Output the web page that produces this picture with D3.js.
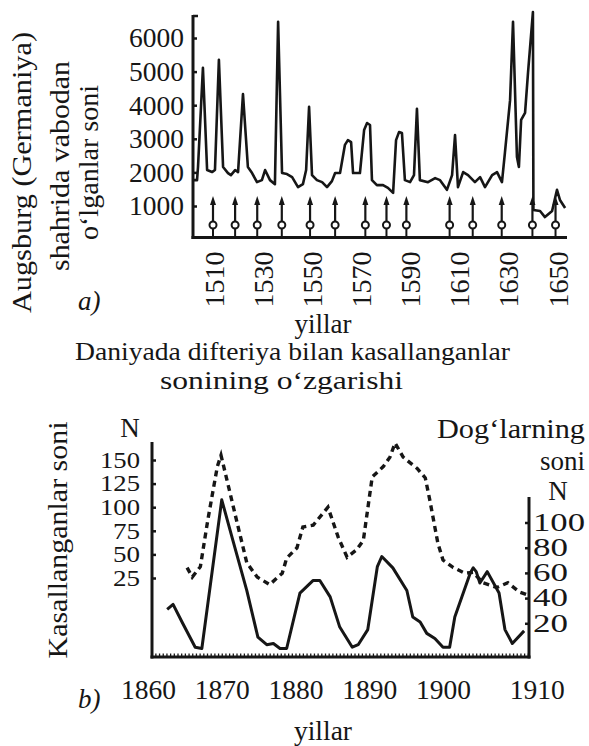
<!DOCTYPE html>
<html>
<head>
<meta charset="utf-8">
<script src="https://cdn.jsdelivr.net/npm/d3@7"></script>
<style>
  body { margin: 0; background: #fff; }
  svg { display: block; }
</style>
</head>
<body>
<svg id="chart" width="589" height="746"></svg>
<script>
// ---------- a) Augsburg: deaths per year ----------
const augYears = [1501.9, 1503.5, 1503.9, 1505.9, 1507.6, 1509.6, 1510.8, 1512.4, 1514.1, 1516.1,
  1517.3, 1519.0, 1520.2, 1522.2, 1524.2, 1525.9, 1527.9, 1529.9, 1531.2, 1533.2,
  1535.2, 1536.5, 1538.1, 1540.1, 1542.2, 1544.6, 1546.6, 1547.9, 1549.1, 1550.3,
  1552.3, 1554.4, 1556.4, 1558.4, 1559.7, 1561.7, 1563.7, 1564.9, 1566.2, 1567.0,
  1569.8, 1571.5, 1572.7, 1573.9, 1574.7, 1576.7, 1579.2, 1581.2, 1583.3, 1584.5,
  1585.7, 1586.9, 1588.1, 1590.2, 1591.8, 1593.0, 1594.2, 1597.5, 1600.4, 1602.4,
  1605.2, 1607.3, 1608.5, 1609.7, 1611.8, 1613.8, 1616.6, 1618.7, 1620.7, 1623.6,
  1625.6, 1627.6, 1628.8, 1630.9, 1632.1, 1633.7, 1634.5, 1635.4, 1637.0, 1638.2,
  1640.2, 1640.4, 1643.1, 1645.1, 1648.0, 1650.0, 1651.2, 1653.3];
const augDeaths = [1770, 1770, 2160, 5110, 2070, 2010, 2070, 5350, 2160, 1980,
  1920, 2070, 2010, 4330, 2160, 1980, 1710, 1770, 2070, 1770,
  1650, 6480, 1980, 1950, 1860, 1560, 1650, 2070, 3950, 1920,
  1770, 1710, 1560, 1740, 1980, 1980, 2820, 2960, 2900, 1980,
  1980, 3260, 3470, 3410, 1770, 1620, 1620, 1540, 1390, 2960,
  3200, 3170, 1770, 1710, 1920, 3890, 1770, 1710, 1830, 1770,
  1480, 1920, 3110, 1560, 2010, 1920, 1710, 1860, 1560, 1920,
  2010, 1710, 2580, 4150, 6480, 2460, 2160, 3560, 3770, 4960,
  6770, 880, 850, 670, 850, 1480, 1180, 940];
// years marked with arrows along the time axis
const markerYears = [1510, 1519, 1528, 1538, 1549.5, 1559.7, 1572, 1580.6, 1588.7,
  1606.3, 1615.7, 1627.5, 1640, 1649.4];
const augYTicks = [1000, 2000, 3000, 4000, 5000, 6000];
const augXTicks = [1510, 1530, 1550, 1570, 1590, 1610, 1630, 1650];

// ---------- b) Denmark: diphtheria cases and sunspots ----------
const caseYears = [1865.3, 1866.0, 1867.1, 1868.1, 1869.4, 1869.9, 1870.7, 1872.1, 1873.4, 1874.8,
  1876.5, 1878.2, 1878.8, 1880.2, 1881.0, 1882.4, 1884.4, 1885.8, 1887.0, 1888.3,
  1889.2, 1890.4, 1891.9, 1892.8, 1893.5, 1894.6, 1896.5, 1897.6, 1898.2, 1899.3,
  1900.0, 1901.4, 1903.0, 1904.1, 1905.4, 1907.3, 1908.8, 1910.4, 1911.5];
const cases = [36, 26, 37, 86, 143, 155, 129, 83, 41, 26,
  18, 30, 46, 57, 79, 81, 100, 68, 47, 55,
  65, 132, 143, 153, 168, 153, 141, 131, 108, 62,
  44, 36, 30, 31, 20, 15, 20, 10, 7];
const spotYears = [1862.6, 1863.4, 1864.7, 1866.4, 1867.3, 1870.0, 1871.5, 1873.4, 1874.9, 1876.1,
  1877.0, 1877.9, 1878.8, 1880.6, 1882.4, 1883.3, 1884.7, 1886.0, 1887.7, 1888.5,
  1889.8, 1891.1, 1891.7, 1893.2, 1895.1, 1895.9, 1896.9, 1897.8, 1898.9, 1900.0,
  1900.9, 1901.6, 1903.7, 1904.1, 1904.5, 1905.0, 1906.0, 1907.6, 1908.4, 1909.4, 1911.0];
const spots = [31, 35, 20, 1, 0, 118, 86, 46, 9, 3,
  4, 0, 0, 44, 54, 54, 41, 17, 1, 3,
  15, 65, 73, 64, 46, 25, 21, 12, 8, 1,
  1, 25, 60, 64, 61, 52, 61, 44, 15, 4, 14];
const caseTicks = [25, 50, 75, 100, 125, 150];
const spotTicks = [20, 40, 60, 80, 100];
const dkXTicks = [1860, 1870, 1880, 1890, 1900, 1910];

const ink = "#161616";
const FONT = '"Liberation Serif"';
const svg = d3.select("#chart");

// every text on the page gets the serif face
const serif = sel => sel.style("font-family", FONT).attr("fill", ink);

// plain text helper
const label = (x, y, txt, size, anchor, len) => {
  const t = svg.append("text").attr("x", x).attr("y", y)
    .attr("text-anchor", anchor || "start")
    .style("font-size", size + "px")
    .text(txt);
  serif(t);
  if (len) t.attr("textLength", len).attr("lengthAdjust", "spacingAndGlyphs");
  return t;
};
// vertical text reading bottom to top
const rotLabel = (x, y, txt, len) => {
  const t = svg.append("text")
    .attr("transform", `translate(${x},${y}) rotate(-90)`)
    .attr("text-anchor", "middle")
    .style("font-size", "27px")
    .attr("textLength", len).attr("lengthAdjust", "spacingAndGlyphs")
    .text(txt);
  return serif(t);
};
const styleAxisText = (sel, size) => serif(sel).style("font-size", size + "px");

// ================= a) =================
const xA = d3.scaleLinear().domain([1510, 1650]).range([213, 557]);
const yA = d3.scaleLinear().domain([0, 6000]).range([239.6, 38]);
const axA = 193, baseA = 237.5;

const gA = svg.append("g");

// axis frame
gA.append("line").attr("x1", axA).attr("x2", axA).attr("y1", 15).attr("y2", baseA + 1.5)
  .attr("stroke", ink).attr("stroke-width", 3);
gA.append("line").attr("x1", axA - 1.5).attr("x2", 567).attr("y1", baseA).attr("y2", baseA)
  .attr("stroke", ink).attr("stroke-width", 3);
gA.append("line").attr("x1", axA).attr("x2", axA + 5).attr("y1", 16).attr("y2", 16)
  .attr("stroke", ink).attr("stroke-width", 2.5);

// inward tick marks
gA.append("g").attr("transform", `translate(${axA},0)`)
  .call(d3.axisRight(yA).tickValues(augYTicks).tickSize(4).tickFormat(""))
  .call(g => g.select(".domain").remove())
  .call(g => g.selectAll("line").attr("stroke", ink).attr("stroke-width", 2.5));

// value labels
gA.append("g").attr("transform", `translate(${axA},0)`)
  .call(d3.axisLeft(yA).tickValues(augYTicks).tickSize(0).tickPadding(9).tickFormat(d3.format("d")))
  .attr("font-family", null)
  .call(g => g.select(".domain").remove())
  .call(g => styleAxisText(g.selectAll("text"), 27.5));

// year labels, rotated
gA.append("g").attr("transform", `translate(0,${baseA})`)
  .call(d3.axisBottom(xA).tickValues(augXTicks).tickSize(0).tickFormat(d3.format("d")))
  .attr("font-family", null)
  .call(g => g.select(".domain").remove())
  .call(g => styleAxisText(g.selectAll("text")
    .attr("transform", "rotate(-90)")
    .attr("x", -14).attr("y", 0).attr("dy", "0.36em")
    .style("text-anchor", "end"), 28));

// markers: stem, ring, arrow
const mk = gA.append("g").selectAll("g").data(markerYears).join("g")
  .attr("transform", d => `translate(${xA(d)},0)`);
mk.append("line").attr("y1", baseA).attr("y2", 228.5).attr("stroke", ink).attr("stroke-width", 2);
mk.append("line").attr("y1", 221.5).attr("y2", 203).attr("stroke", ink).attr("stroke-width", 2.2);
mk.append("circle").attr("cy", 225).attr("r", 3.5).attr("fill", "#fff")
  .attr("stroke", ink).attr("stroke-width", 2);
mk.append("path").attr("d", "M0,196 L3,205 L-3,205 Z").attr("fill", ink);

// deaths line
const lineA = d3.line().x(d => xA(d[0])).y(d => yA(d[1]));
gA.append("path")
  .datum(augYears.map((y, i) => [y, augDeaths[i]]))
  .attr("d", lineA)
  .attr("fill", "none").attr("stroke", ink).attr("stroke-width", 2.6)
  .attr("stroke-linejoin", "round");

// titles for a)
rotLabel(31, 172.5, "Augsburg (Germaniya)", 281);
rotLabel(69, 166, "shahrida vabodan", 210);
rotLabel(98, 162.5, "o\u2018lganlar soni", 155);
label(78, 310, "a)", 27).style("font-style", "italic");
label(323, 333, "yillar", 27, "middle");

// ================= b) =================
label(292.5, 360, "Daniyada difteriya bilan kasallanganlar", 25.5, "middle", 435);
label(281.5, 389, "sonining o\u2018zgarishi", 25.5, "middle", 243);

const xB = d3.scaleLinear().domain([1860, 1900]).range([148, 443]);
const yCases = d3.scaleLinear().domain([0, 150]).range([601.6, 460]);
const ySpots = d3.scaleLinear().domain([0, 100]).range([648.5, 522.5]);
const leftB = 152, rightB = 529, baseB = 657;

const gB = svg.append("g");

// frame
gB.append("line").attr("x1", leftB).attr("x2", leftB).attr("y1", 442).attr("y2", baseB + 1.5)
  .attr("stroke", ink).attr("stroke-width", 3);
gB.append("line").attr("x1", rightB).attr("x2", rightB).attr("y1", 497).attr("y2", baseB + 1.5)
  .attr("stroke", ink).attr("stroke-width", 3);
gB.append("line").attr("x1", leftB - 1.5).attr("x2", rightB + 1.5).attr("y1", baseB).attr("y2", baseB)
  .attr("stroke", ink).attr("stroke-width", 3);

// fine year ticks along the time axis
gB.append("g").attr("transform", `translate(0,${baseB})`)
  .call(d3.axisTop(xB).tickValues(d3.range(1860.5, 1911.6, 0.5)).tickSize(3.5).tickFormat(""))
  .call(g => g.select(".domain").remove())
  .call(g => g.selectAll("line").attr("stroke", ink).attr("stroke-width", 1.3));

// year labels
gB.append("g").attr("transform", `translate(0,${baseB})`)
  .call(d3.axisBottom(xB).tickValues(dkXTicks).tickSize(0).tickPadding(22).tickFormat(d3.format("d")))
  .attr("font-family", null)
  .call(g => g.select(".domain").remove())
  .call(g => g.selectAll(".tick").filter(d => d === 1910).select("text").attr("x", 20))
  .call(g => styleAxisText(g.selectAll("text"), 27.5));

// left scale: cases
gB.append("g").attr("transform", `translate(${leftB},0)`)
  .call(d3.axisRight(yCases).tickValues(caseTicks).tickSize(4).tickFormat(""))
  .call(g => g.select(".domain").remove())
  .call(g => g.selectAll("line").attr("stroke", ink).attr("stroke-width", 2.5));
gB.append("g").attr("transform", `translate(${leftB},0)`)
  .call(d3.axisLeft(yCases).tickValues(caseTicks).tickSize(0).tickPadding(12))
  .attr("font-family", null)
  .call(g => g.select(".domain").remove())
  .call(g => styleAxisText(g.selectAll("text"), 23)
    .attr("textLength", d => d >= 100 ? 40 : 27).attr("lengthAdjust", "spacingAndGlyphs"));

// right scale: sunspots
gB.append("g").attr("transform", `translate(${rightB},0)`)
  .call(d3.axisLeft(ySpots).tickValues(spotTicks).tickSize(4).tickFormat(""))
  .call(g => g.select(".domain").remove())
  .call(g => g.selectAll("line").attr("stroke", ink).attr("stroke-width", 2.5));
gB.append("g").attr("transform", `translate(${rightB},0)`)
  .call(d3.axisRight(ySpots).tickValues(spotTicks).tickSize(0).tickPadding(4))
  .attr("font-family", null)
  .call(g => g.select(".domain").remove())
  .call(g => styleAxisText(g.selectAll("text"), 24.5)
    .attr("textLength", d => d >= 100 ? 52 : 35).attr("lengthAdjust", "spacingAndGlyphs"));

// series
gB.append("path")
  .datum(caseYears.map((y, i) => [y, cases[i]]))
  .attr("d", d3.line().x(d => xB(d[0])).y(d => yCases(d[1])))
  .attr("fill", "none").attr("stroke", ink).attr("stroke-width", 3.4)
  .attr("stroke-dasharray", "6,4.5");
gB.append("path")
  .datum(spotYears.map((y, i) => [y, spots[i]]))
  .attr("d", d3.line().x(d => xB(d[0])).y(d => ySpots(d[1])))
  .attr("fill", "none").attr("stroke", ink).attr("stroke-width", 3)
  .attr("stroke-linejoin", "round");

// labels for b)
rotLabel(67, 540, "Kasallanganlar soni", 237);
label(130, 437, "N", 27, "middle");
label(585, 438, "Dog\u2018larning", 27, "end", 148);
label(585, 470, "soni", 27, "end");
label(558, 500, "N", 27, "middle");
label(78, 708, "b)", 27).style("font-style", "italic");
label(323, 740, "yillar", 27.5, "middle");
</script>
</body>
</html>
